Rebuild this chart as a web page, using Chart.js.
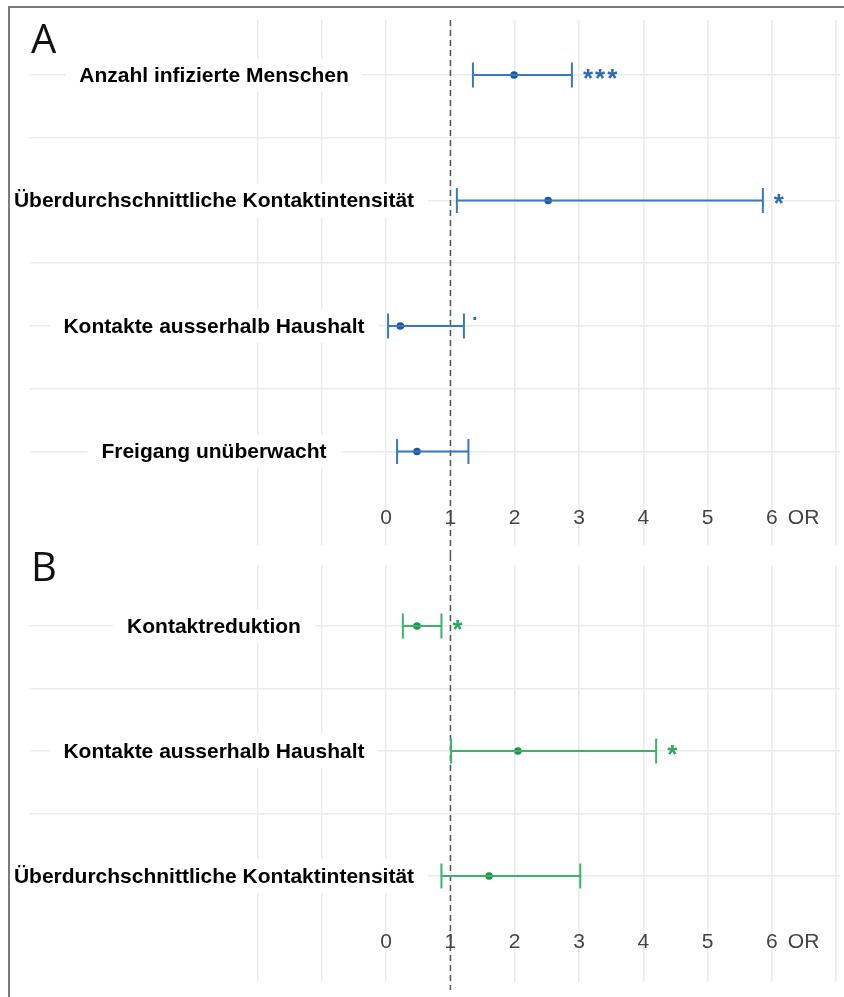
<!DOCTYPE html>
<html>
<head>
<meta charset="utf-8">
<script src="https://cdn.jsdelivr.net/npm/chart.js@4.4.0/dist/chart.umd.min.js"></script>
<style>
  body { margin: 0; background: #fff; width: 844px; height: 997px; position: relative; overflow: hidden; }
  #frame { position: absolute; left: 8px; top: 6px; width: 900px; height: 1100px; border-left: 2px solid #7a7a7a; border-top: 2px solid #7a7a7a; z-index: 5; pointer-events: none; }
  .panel { position: absolute; left: 0; width: 844px; }
  #wrapA { top: 0; height: 555px; }
  #wrapB { top: 540px; height: 457px; }
</style>
</head>
<body>
<div id="frame"></div>
<div class="panel" id="wrapA"><canvas id="chartA"></canvas></div>
<div class="panel" id="wrapB"><canvas id="chartB"></canvas></div>
<script>
// Panel A
const labelsA = ['Anzahl infizierte Menschen', 'Überdurchschnittliche Kontaktintensität', 'Kontakte ausserhalb Haushalt', 'Freigang unüberwacht'];
const orA = [1.99, 2.52, 0.22, 0.48];
const lowA = [1.35, 1.10, 0.03, 0.17];
const highA = [2.89, 5.86, 1.21, 1.28];
const sigA = ['***', '*', '.', ''];

// Panel B
const labelsB = ['Kontaktreduktion', 'Kontakte ausserhalb Haushalt', 'Überdurchschnittliche Kontaktintensität'];
const orB = [0.48, 2.05, 1.60];
const lowB = [0.26, 1.01, 0.86];
const highB = [0.86, 4.20, 3.02];
const sigB = ['*', '*', ''];

const tickLabels = [0, 1, 2, 3, 4, 5, 6];
const gridX = [-2, -1, 0, 1, 2, 3, 4, 5, 6, 7];
const refLine = 1;

const forestPlugin = {
  id: 'forest',
  beforeDatasetsDraw(chart, args, opts) {
    const {ctx} = chart;
    const y = chart.scales.y;
    const x = chart.scales.x;
    ctx.save();
    // row labels on white boxes
    ctx.font = 'bold 21px "Liberation Sans", Arial, sans-serif';
    ctx.textAlign = 'center';
    ctx.textBaseline = 'middle';
    opts.labels.forEach((txt, i) => {
      const py = y.getPixelForValue(i);
      const w = ctx.measureText(txt).width + 28;
      ctx.fillStyle = '#fff';
      ctx.fillRect(214 - w / 2, py - 17, w, 34);
      ctx.fillStyle = '#000';
      ctx.fillText(txt, 214, py + 1);
    });
    // reference line at OR = 1
    const rx = x.getPixelForValue(refLine);
    ctx.strokeStyle = '#555';
    ctx.lineWidth = 1.5;
    ctx.setLineDash([6, 4]);
    ctx.beginPath();
    ctx.moveTo(rx, opts.dashFrom);
    ctx.lineTo(rx, opts.dashTo);
    ctx.stroke();
    ctx.restore();
  },
  afterDatasetsDraw(chart, args, opts) {
    const {ctx} = chart;
    const y = chart.scales.y;
    const x = chart.scales.x;
    ctx.save();
    // significance marks
    ctx.fillStyle = opts.starColor;
    ctx.textAlign = 'left';
    ctx.textBaseline = 'alphabetic';
    opts.sig.forEach((s, i) => {
      if (!s) return;
      const px = x.getPixelForValue(opts.high[i]);
      const py = y.getPixelForValue(i);
      if (s === '.') {
        ctx.font = 'bold 20px "Liberation Sans", Arial, sans-serif';
        ctx.fillText(s, px + 8, py - 6);
      } else {
        ctx.font = 'bold 26px "Liberation Sans", Arial, sans-serif';
        ctx.letterSpacing = '2px';
        ctx.fillText(s, px + 11, py + 12);
        ctx.letterSpacing = '0px';
      }
    });
    // OR tick labels
    const ty = y.getPixelForValue(opts.labels.length - 0.47);
    ctx.font = '21px "Liberation Sans", Arial, sans-serif';
    ctx.fillStyle = '#444';
    ctx.textAlign = 'center';
    ctx.textBaseline = 'middle';
    tickLabels.forEach(v => ctx.fillText(String(v), x.getPixelForValue(v), ty));
    ctx.textAlign = 'left';
    ctx.fillText('OR', x.getPixelForValue(tickLabels[tickLabels.length - 1]) + 16, ty);
    // panel tag
    ctx.font = '40px "Open Sans", sans-serif';
    ctx.fillStyle = '#111';
    ctx.textBaseline = 'alphabetic';
    ctx.fillText(opts.tag, 31, opts.tagY);
    ctx.restore();
  }
};

function makeChart(id, labels, est, low, high, sig, c, extra) {
  const ciSets = labels.map((l, i) => ({
    label: l,
    data: [{x: low[i], y: i}, {x: high[i], y: i}],
    showLine: true,
    borderColor: c.line,
    borderWidth: 2,
    pointStyle: 'line',
    pointRotation: 90,
    pointRadius: 12.5,
    pointBorderWidth: 2,
    pointBorderColor: c.line
  }));
  const estSet = {
    label: 'OR',
    data: est.map((v, i) => ({x: v, y: i})),
    showLine: false,
    pointRadius: 3.8,
    pointBackgroundColor: c.dot,
    pointBorderWidth: 0
  };
  const rowTicks = [];
  for (let i = 0; i < labels.length; i++) {
    rowTicks.push(i);
    if (i < labels.length - 1) rowTicks.push(i + 0.5);
  }
  return new Chart(document.getElementById(id), {
    type: 'scatter',
    data: {datasets: [...ciSets, estSet]},
    options: {
      responsive: true,
      maintainAspectRatio: false,
      animation: false,
      events: [],
      layout: {padding: extra.padding, autoPadding: false},
      plugins: {
        legend: {display: false},
        tooltip: {enabled: false},
        forest: {
          labels: labels, sig: sig, high: high, starColor: c.star,
          dashFrom: extra.dashFrom, dashTo: extra.dashTo,
          tag: extra.tag, tagY: extra.tagY
        }
      },
      scales: {
        x: {
          type: 'linear', min: -5.54, max: 7.06,
          ticks: {display: false},
          border: {display: false},
          grid: {drawTicks: false, color: '#ebebeb', lineWidth: 1.5},
          afterBuildTicks: s => { s.ticks = gridX.map(v => ({value: v})); }
        },
        y: {
          type: 'linear', reverse: true, min: extra.yMin, max: extra.yMax,
          ticks: {display: false},
          border: {display: false},
          grid: {drawTicks: false, color: '#ebebeb', lineWidth: 1.5},
          afterBuildTicks: s => { s.ticks = rowTicks.map(v => ({value: v})); }
        }
      }
    },
    plugins: [forestPlugin]
  });
}

makeChart('chartA', labelsA, orA, lowA, highA, sigA,
  {line: '#3a77c2', dot: '#1756a9', star: '#2b6cb5'},
  {padding: {left: 30, right: 4, top: 20, bottom: 10}, yMin: -0.438, yMax: 3.745,
   dashFrom: 20, dashTo: 555, tag: 'A', tagY: 53});

makeChart('chartB', labelsB, orB, lowB, highB, sigB,
  {line: '#3fb06a', dot: '#1b9548', star: '#2aa85a'},
  {padding: {left: 30, right: 4, top: 25, bottom: 15}, yMin: -0.488, yMax: 2.848,
   dashFrom: 15, dashTo: 450, tag: 'B', tagY: 41});
</script>
</body>
</html>
